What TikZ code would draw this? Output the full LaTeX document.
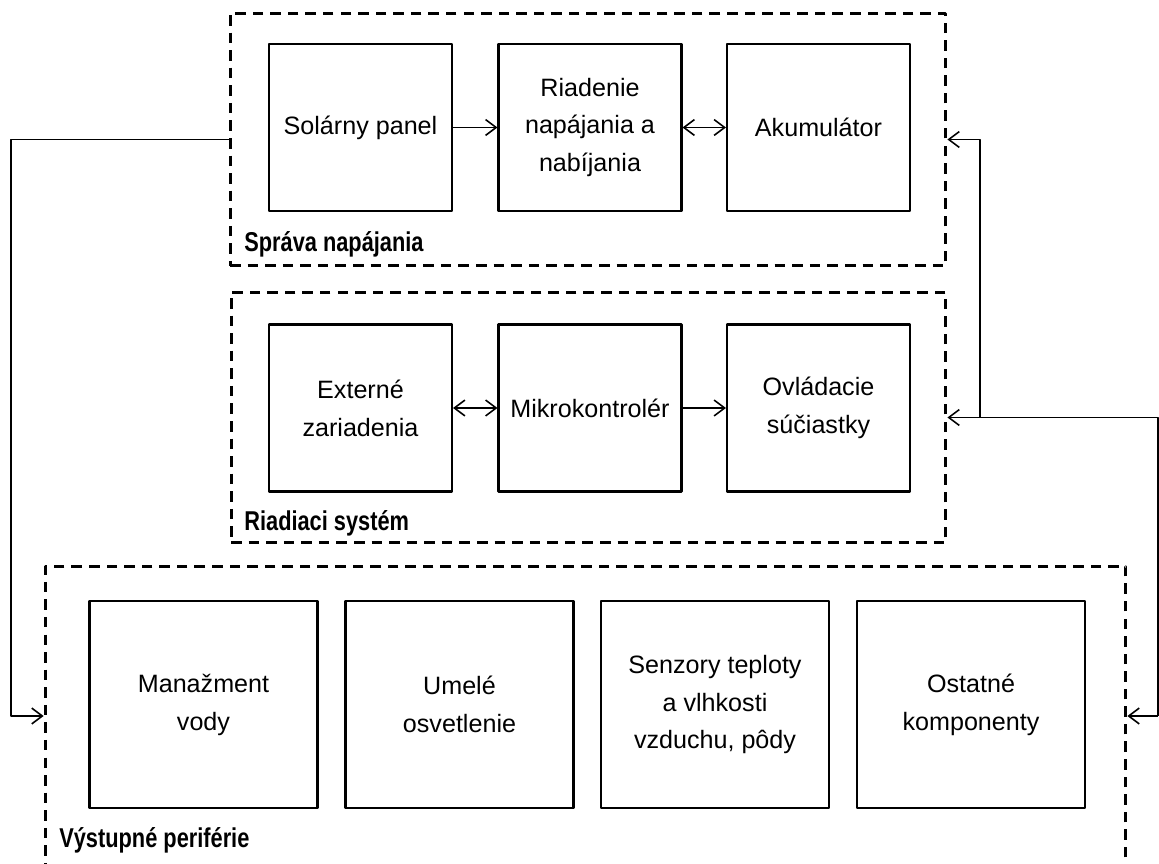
\documentclass[tikz,border=0pt]{standalone}
\usepackage{fontspec}
\setmainfont{Liberation Sans}
\newfontfamily\grpfont{Liberation Sans}[FakeStretch=0.8]
\usetikzlibrary{arrows.meta}

\begin{document}
\begin{tikzpicture}[x=0.02cm, y=-0.02cm, line join=round,
    >={Straight Barb[length=6pt,width=9pt]},
    font=\fontsize{14.3}{21.6}\selectfont,
    blok/.style={draw, line width=1.2pt, align=center, inner sep=2pt},
    malyblok/.style={blok, minimum width=3.66cm, minimum height=3.34cm},
    velkyblok/.style={blok, minimum width=4.56cm, minimum height=4.14cm},
    skupina/.style={draw, line width=1.7pt, dash pattern=on 6pt off 4pt, inner sep=0pt},
    nadpis/.style={anchor=base west, inner sep=0pt, font=\grpfont\bfseries\fontsize{15.5}{18}\selectfont},
    spoj/.style={line width=0.9pt}]
    \useasboundingbox (0,0) rectangle (1159,864);
    \clip (0,0) rectangle (1159,864);
    % skupiny
    \node[skupina, minimum width=14.32cm, minimum height=5.06cm] (napajanie) at (588,139.5) {};
    \node[skupina, minimum width=14.3cm, minimum height=5.02cm] (riadenie) at (588.5,417.5) {};
    \node[skupina, minimum width=21.62cm, minimum height=6cm] (periferie) at (585.5,716) {};
    \node[nadpis] (lblNapajanie) at (244,252) {Správa napájania};
    \node[nadpis] (lblRiadenie) at (244,530) {Riadiaci systém};
    \node[nadpis] (lblPeriferie) at (59,847) {Výstupné periférie};
    % sprava napajania
    \node[malyblok] (solar) at (360.5,127.5) {Solárny panel};
    \node[malyblok] (nabijanie) at (590,127.5) {Riadenie\\napájania a\\nabíjania};
    \node[malyblok] (akum) at (818.5,127.5) {Akumulátor};
    % riadiaci system
    \node[malyblok] (externe) at (360.5,408) {Externé\\zariadenia};
    \node[malyblok] (mcu) at (590,408) {Mikrokontrolér};
    \node[malyblok] (ovladanie) at (818.5,408) {Ovládacie\\súčiastky};
    % periferie
    \node[velkyblok] (voda) at (203.5,704.5) {Manažment\\vody};
    \node[velkyblok] (svetlo) at (459.5,704.5) {Umelé\\osvetlenie};
    \node[velkyblok] (senzory) at (715,704.5) {Senzory teploty\\a vlhkosti\\vzduchu, pôdy};
    \node[velkyblok] (ostatne) at (971,704.5) {Ostatné\\komponenty};
    % spoje
    \draw[spoj,->] (solar) -- (nabijanie);
    \draw[spoj,<->] (nabijanie) -- (akum);
    \draw[spoj,<->] (externe) -- (mcu);
    \draw[spoj,->] (mcu) -- (ovladanie);
    \coordinate (lavo) at (11,139.5);
    \coordinate (pravo) at (1158,716);
    \coordinate (odbocka) at (980,417.5);
    \draw[spoj,->] (napajanie.west) -- (lavo) |- (periferie.west);
    \draw[spoj,->] (pravo) -- (periferie.east);
    \draw[spoj,->] (pravo) |- (riadenie.east);
    \draw[spoj,->] (odbocka) |- (napajanie.east);
\end{tikzpicture}
\end{document}
